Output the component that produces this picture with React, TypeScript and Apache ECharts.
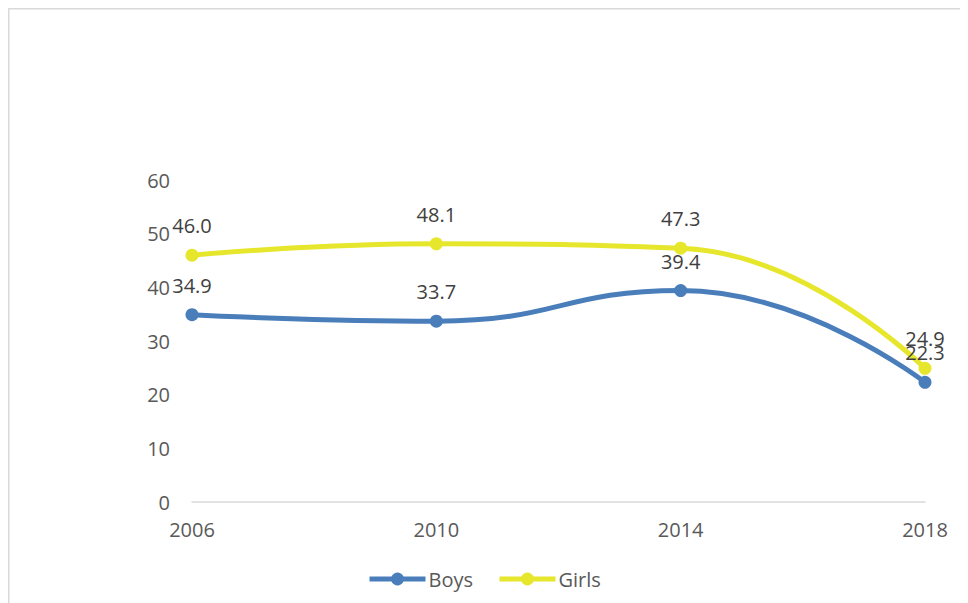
import React, { useEffect, useRef } from "react";
import * as echarts from "echarts";

const years = ["2006", "2010", "2014", "2018"];
const boys = [34.9, 33.7, 39.4, 22.3];
const girls = [46.0, 48.1, 47.3, 24.9];

const BLUE = "#4a7ebb";
const YELLOW = "#e6e62c";
const FONT = "'Open Sans', 'Noto Sans', sans-serif";

export default function App() {
  const ref = useRef<HTMLDivElement>(null);
  useEffect(() => {
    if (!ref.current) return;
    const chart = echarts.init(ref.current, undefined, { renderer: "svg" });
    const label = {
      show: true,
      position: "top",
      distance: 13,
      fontSize: 20,
      color: "#404040",
      fontFamily: FONT,
      formatter: (p: any) => Number(p.value).toFixed(1),
    };
    chart.setOption({
      animation: false,
      backgroundColor: "#ffffff",
      graphic: [
        {
          type: "rect",
          shape: { x: 0.75, y: 0.75, width: 1200, height: 1000 },
          style: { fill: "none", stroke: "#d9d9d9", lineWidth: 1.5 },
          silent: true,
        },
      ],
      grid: { left: 184, right: 43, top: 172, bottom: 101, containLabel: false },
      legend: {
        bottom: 9,
        left: 354,
        itemWidth: 56,
        itemHeight: 16,
        itemGap: 24,
        itemStyle: { borderWidth: 0 },
        lineStyle: { width: 5 },
        textStyle: { fontSize: 20, color: "#595959", fontFamily: FONT, padding: [0, 0, 0, -2] },
        data: ["Boys", "Girls"],
      },
      xAxis: {
        type: "category",
        data: years,
        boundaryGap: false,
        axisLine: { lineStyle: { color: "#d9d9d9", width: 1.5 } },
        axisTick: { show: false },
        axisLabel: { fontSize: 20, color: "#595959", fontFamily: FONT, margin: 17 },
      },
      yAxis: {
        type: "value",
        min: 0,
        max: 60,
        interval: 10,
        axisLine: { show: false },
        axisTick: { show: false },
        splitLine: { show: false },
        axisLabel: { fontSize: 20, color: "#595959", fontFamily: FONT, margin: 22 },
      },
      series: [
        {
          name: "Boys",
          type: "line",
          data: boys,
          smooth: 0.5,
          symbol: "circle",
          symbolSize: 13,
          itemStyle: { color: BLUE },
          lineStyle: { color: BLUE, width: 5 },
          label,
        },
        {
          name: "Girls",
          type: "line",
          data: girls,
          smooth: 0.5,
          symbol: "circle",
          symbolSize: 13,
          itemStyle: { color: YELLOW },
          lineStyle: { color: YELLOW, width: 5 },
          label,
        },
      ],
    });
    return () => chart.dispose();
  }, []);
  return <div ref={ref} style={{ width: 960, height: 595 }} />;
}
